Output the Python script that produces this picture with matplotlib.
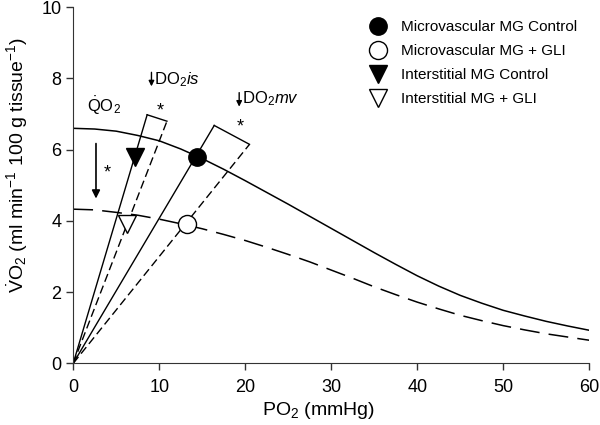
import numpy as np
import matplotlib
matplotlib.use("Agg")
import matplotlib.pyplot as plt

plt.rcParams['font.family'] = ['Liberation Sans', 'DejaVu Sans']
plt.rcParams['mathtext.fontset'] = 'custom'
plt.rcParams['mathtext.rm'] = 'Liberation Sans'
plt.rcParams['mathtext.it'] = 'Liberation Sans:italic'

# curves (PO2 in mmHg, VO2)
po2 = [0, 2.5, 5, 7.5, 10, 12.5, 15, 17.5, 20, 22.5, 25, 27.5, 30,
       32.5, 35, 37.5, 40, 42.5, 45, 47.5, 50, 52.5, 55, 57.5, 60]
vo2_control = [6.60, 6.58, 6.52, 6.40, 6.25, 6.02, 5.75, 5.45, 5.13, 4.80, 4.47, 4.13, 3.79,
               3.45, 3.11, 2.78, 2.46, 2.17, 1.91, 1.69, 1.49, 1.33, 1.18, 1.05, 0.93]
vo2_gli = [4.33, 4.31, 4.24, 4.16, 4.05, 3.92, 3.78, 3.62, 3.45, 3.26, 3.06, 2.85, 2.62,
           2.39, 2.15, 1.93, 1.72, 1.53, 1.35, 1.20, 1.06, 0.94, 0.83, 0.74, 0.65]

# measured points
mv_ctrl = (14.35, 5.8)
mv_gli = (13.2, 3.9)
is_ctrl = (7.2, 5.8)
is_gli = (6.2, 3.9)

# DO2 (Fick) lines from origin, end points
mv_ctrl_end = (16.4, 6.68)
mv_gli_end = (20.5, 6.15)
is_ctrl_end = (8.6, 6.98)
is_gli_end = (10.9, 6.80)

fig = plt.figure(figsize=(6, 4.25), dpi=100)
ax = fig.add_axes([0.122, 0.145, 0.86, 0.838])

ax.plot(po2, vo2_control, color='black', lw=1.1)
ax.plot(po2, vo2_gli, color='black', lw=1.1, dashes=(13, 6))

# rays from origin
ax.plot([0, mv_ctrl_end[0]], [0, mv_ctrl_end[1]], color='black', lw=1.0)
ax.plot([0, mv_gli_end[0]], [0, mv_gli_end[1]], color='black', lw=1.0, dashes=(6, 3))
ax.plot([0, is_ctrl_end[0]], [0, is_ctrl_end[1]], color='black', lw=1.0)
ax.plot([0, is_gli_end[0]], [0, is_gli_end[1]], color='black', lw=1.0, dashes=(6, 3))

# brackets joining ray ends
ax.plot([mv_ctrl_end[0], mv_gli_end[0]], [mv_ctrl_end[1], mv_gli_end[1]], color='black', lw=1.0)
ax.plot([is_ctrl_end[0], is_gli_end[0]], [is_ctrl_end[1], is_gli_end[1]], color='black', lw=1.0)

ax.plot(*mv_ctrl, 'o', color='black', ms=12.5, label='Microvascular MG Control')
ax.plot(*mv_gli, 'o', mfc='white', mec='black', mew=1.0, ms=13, label='Microvascular MG + GLI')
ax.plot(*is_ctrl, 'v', color='black', ms=12.5, label='Interstitial MG Control')
ax.plot(*is_gli, 'v', mfc='white', mec='black', mew=1.0, ms=12.5, label='Interstitial MG + GLI')

# annotations
ax.annotate('', xy=(2.65, 4.55), xytext=(2.65, 6.25),
            arrowprops=dict(arrowstyle='-|>', color='black', lw=1.2, mutation_scale=12))
ax.text(3.5, 5.35, '*', fontsize=13, ha='left', va='center')
ax.text(1.6, 7.22, r'$\dot{\mathrm{Q}}\mathrm{O}_2$', fontsize=12, ha='left', va='center')

ax.annotate('', xy=(9.1, 7.70), xytext=(9.1, 8.25),
            arrowprops=dict(arrowstyle='-|>', color='black', lw=1.0, mutation_scale=8))
ax.text(9.4, 7.98, r'DO$_2$$\mathit{is}$', fontsize=12, ha='left', va='center')
ax.text(10.1, 7.1, '*', fontsize=13, ha='center', va='center')

ax.annotate('', xy=(19.3, 7.13), xytext=(19.3, 7.68),
            arrowprops=dict(arrowstyle='-|>', color='black', lw=1.0, mutation_scale=8))
ax.text(19.6, 7.42, r'DO$_2$$\mathit{mv}$', fontsize=12, ha='left', va='center')
ax.text(19.4, 6.65, '*', fontsize=13, ha='center', va='center')

ax.set_xlim(0, 60)
ax.set_ylim(0, 10)
ax.set_xticks(range(0, 61, 10))
ax.set_yticks(range(0, 11, 2))
ax.tick_params(labelsize=13, length=5, width=1, color='#333333')
ax.tick_params(axis='x', pad=6)
for s in ['top', 'right']:
    ax.spines[s].set_visible(False)
for s in ['left', 'bottom']:
    ax.spines[s].set_color('#333333')

ax.set_xlabel(r'PO$_2$ (mmHg)', fontsize=14)
ax.set_ylabel(r'$\dot{\mathrm{V}}\mathrm{O}_2$ (ml min$^{-1}$ 100 g tissue$^{-1}$)', fontsize=14)
ax.xaxis.set_label_coords(0.476, -0.104)
ax.yaxis.set_label_coords(-0.083, 0.557)

ax.legend(loc='upper left', bbox_to_anchor=(0.562, 0.98), frameon=False, fontsize=11,
          numpoints=1, handlelength=1.2, handletextpad=0.9, labelspacing=0.65, borderaxespad=0)

fig.savefig('out.png', dpi=100)
